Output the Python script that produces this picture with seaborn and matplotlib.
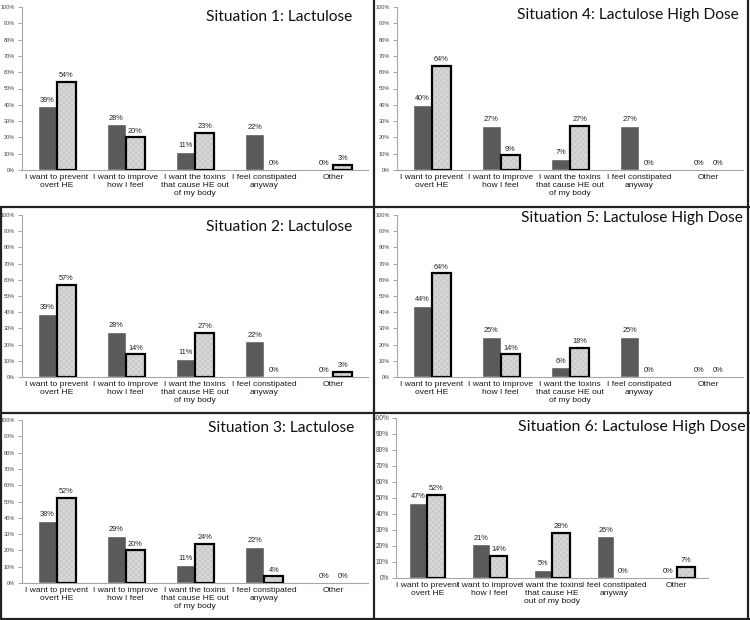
import matplotlib
matplotlib.use("Agg")
import matplotlib.pyplot as plt
from matplotlib.patches import Rectangle
from matplotlib.lines import Line2D
import seaborn as sns
import pandas as pd
import numpy as np

# reasons on the x axis
reasons = ["I want to prevent\novert HE", "I want to improve\nhow I feel",
           "I want the toxins\nthat cause HE out\nof my body", "I feel constipated\nanyway", "Other"]
reasons_6 = ["I want to prevent\novert HE", "I want to improve\nhow I feel",
             "I want the toxins\nthat cause HE\nout of my body", "I feel constipated\nanyway", "Other"]

titles = ["Situation 1: Lactulose", "Situation 2: Lactulose", "Situation 3: Lactulose",
          "Situation 4: Lactulose High Dose", "Situation 5: Lactulose High Dose",
          "Situation 6: Lactulose High Dose"]

# percentages, dark bars (a) and patterned bars (b)
sit1_a = [39, 28, 11, 22, 0]
sit1_b = [54, 20, 23, 0, 3]
sit2_a = [39, 28, 11, 22, 0]
sit2_b = [57, 14, 27, 0, 3]
sit3_a = [38, 29, 11, 22, 0]
sit3_b = [52, 20, 24, 4, 0]
sit4_a = [40, 27, 7, 27, 0]
sit4_b = [64, 9, 27, 0, 0]
sit5_a = [44, 25, 6, 25, 0]
sit5_b = [64, 14, 18, 0, 0]
sit6_a = [47, 21, 5, 26, 0]
sit6_b = [52, 14, 28, 0, 7]

W, H = 750, 620
sns.set_style("white")
plt.rcParams['font.family'] = ['Liberation Sans', 'DejaVu Sans']
plt.rcParams['hatch.linewidth'] = 0.5

fig = plt.figure(figsize=(W / 100, H / 100), dpi=100)


def px_axes(l, t, r, b):
    return fig.add_axes([l / W, 1 - b / H, (r - l) / W, (b - t) / H])


def draw_panel(ax, cats, a_vals, b_vals, title, tx, ty, tsize, width, ysize):
    df = pd.DataFrame({"reason": cats * 2, "share": a_vals + b_vals,
                       "group": ["a"] * len(cats) + ["b"] * len(cats)})
    sns.barplot(data=df, x="reason", y="share", hue="group", order=cats, hue_order=["a", "b"],
                palette=["#5a5a5a", "#d8d8d8"], saturation=1, width=width, gap=0,
                errorbar=None, legend=False, ax=ax)
    for p in ax.containers[1]:
        p.set_hatch("xxxxxx")
        p.set_edgecolor("#c4c4c4")
        p.set_linewidth(0)
        if p.get_height() > 0:
            ax.add_patch(Rectangle((p.get_x(), p.get_y()), p.get_width(), p.get_height(),
                                   fill=False, edgecolor="black", lw=1.6, zorder=3))
    ax.bar_label(ax.containers[0], labels=[f"{v}%" for v in a_vals], padding=2, fontsize=5.3, color="#222")
    ax.bar_label(ax.containers[1], labels=[f"{v}%" for v in b_vals], padding=2, fontsize=5.3, color="#222")

    ax.set_xlim(-0.5, len(cats) - 0.5)
    ax.set_ylim(0, 100)
    ax.set_yticks(range(0, 101, 10))
    ax.set_yticklabels([f"{t}%" for t in range(0, 101, 10)], fontsize=ysize, color="#444")
    ax.set_xticks(range(len(cats)))
    ax.set_xticklabels(cats, fontsize=6.1, color="#1a1a1a", linespacing=1.22)
    ax.set_xticks(np.arange(-0.5, len(cats), 1), minor=True)
    ax.tick_params(axis="x", which="major", length=0, pad=3)
    ax.tick_params(axis="x", which="minor", length=3, color="#a6a6a6", width=0.7)
    ax.tick_params(axis="y", length=3, color="#a6a6a6", width=0.7, pad=2, left=True)
    ax.set_xlabel("")
    ax.set_ylabel("")
    for s in ["top", "right"]:
        ax.spines[s].set_visible(False)
    for s in ["left", "bottom"]:
        ax.spines[s].set_color("#a6a6a6")
        ax.spines[s].set_linewidth(0.8)
    ax.text(tx, ty, title, transform=ax.transAxes, ha="right", va="center",
            fontsize=tsize, family=["Lato", "DejaVu Sans"], color="#111")


panels = [
    ((22, 7, 368, 170), reasons, sit1_a, sit1_b, titles[0], 0.954, 0.94, 11.2, 0.55, 4),
    ((22, 215, 368, 377), reasons, sit2_a, sit2_b, titles[1], 0.954, 0.926, 11.2, 0.55, 4),
    ((22, 420, 368, 583), reasons, sit3_a, sit3_b, titles[2], 0.96, 0.95, 11.2, 0.55, 4),
    ((397, 7, 743, 170), reasons, sit4_a, sit4_b, titles[3], 0.988, 0.95, 11.2, 0.55, 4),
    ((397, 215, 743, 377), reasons, sit5_a, sit5_b, titles[4], 1.0, 0.98, 11.2, 0.55, 4),
    ((396, 418, 708, 578), reasons_6, sit6_a, sit6_b, titles[5], 1.12, 0.944, 11.4, 0.57, 4.8),
]

for box, cats, a, b, t, tx, ty, ts, w, ys in panels:
    ax = px_axes(*box)
    draw_panel(ax, cats, a, b, t, tx, ty, ts, w, ys)

# panel frame lines
def fig_line(x0, y0, x1, y1, lw=1.6):
    fig.add_artist(Line2D([x0 / W, x1 / W], [1 - y0 / H, 1 - y1 / H], color="#222", lw=lw))

fig_line(374, 0, 374, H)
fig_line(0, 207, W, 207)
fig_line(0, 413, W, 413)
fig_line(0, 619, W, 619)
fig_line(748, 0, 748, H)
fig_line(1, 207, 1, H)

fig.savefig("out.png", dpi=100)
